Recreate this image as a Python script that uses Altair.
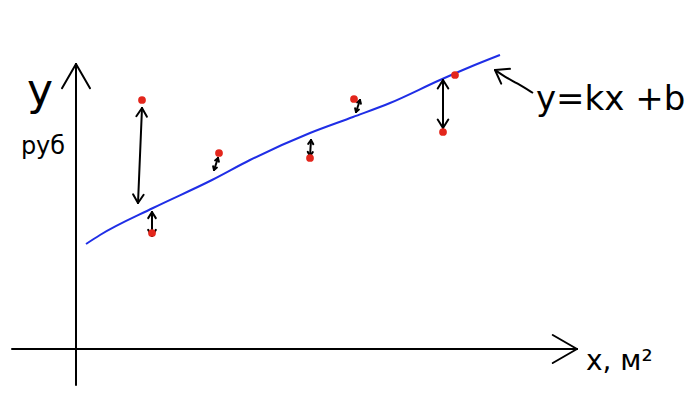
import math
import altair as alt
import pandas as pd

# --- data (chart units: x in м², y in руб) ---
pts_x = [6.6, 7.6, 14.3, 23.4, 27.8, 36.7, 37.9]
pts_y = [24.9, 11.6, 19.6, 19.1, 25.0, 21.7, 27.4]

fit_x = [1.0, 2.4, 7.7, 13.6, 17.4, 23.4, 27.7, 31.4, 36.4, 39.4, 42.4]
fit_y = [10.5, 11.4, 14.1, 16.9, 18.9, 21.6, 23.2, 24.6, 26.9, 28.2, 29.4]

# residual double arrows: (x_top, y_top, x_bottom, y_bottom)
res_x1 = [6.6, 7.6, 14.2, 23.5, 28.4, 36.7]
res_y1 = [24.1, 13.7, 19.1, 20.9, 24.9, 26.9]
res_x2 = [6.2, 7.6, 13.8, 23.4, 28.0, 36.7]
res_y2 = [14.6, 11.3, 17.9, 19.3, 23.7, 22.1]

# axes (start, end) and label pointer curve
yaxis = [(0.0, -3.6), (0.0, 28.5)]
xaxis = [(-6.4, 0.0), (50.1, 0.0)]
curve_x = [45.7, 44.1, 42.9, 41.9]
curve_y = [25.6, 26.6, 27.2, 27.9]

labels = ["у", "руб", "у=kх +b", "х, м²"]
lab_x = [-3.6, -3.3, 46.0, 51.0]
lab_y = [25.7, 20.2, 24.9, -1.3]
lab_size = [44, 24, 34, 28]
lab_align = ["center", "center", "left", "left"]

XDOM = [-6.8, 61.6]
YDOM = [-5.3, 34.1]

segs = []


def add_seg(x1, y1, x2, y2):
    segs.append({"x": x1, "y": y1, "x2": x2, "y2": y2})


def head(tx, ty, fx, fy, L=1.1, ang=28):
    # wings at tip (tx,ty) for arrow coming from (fx,fy)
    a = math.atan2(fy - ty, fx - tx)
    for s in (-1, 1):
        b = a + s * math.radians(ang)
        add_seg(tx, ty, tx + L * math.cos(b), ty + L * math.sin(b))


for x1, y1, x2, y2 in zip(res_x1, res_y1, res_x2, res_y2):
    add_seg(x1, y1, x2, y2)
    n = math.hypot(x2 - x1, y2 - y1)
    L = min(1.0, 0.3 * n)
    head(x1, y1, x2, y2, L=L, ang=32)
    head(x2, y2, x1, y1, L=L, ang=32)

for (a, b) in (yaxis, xaxis):
    add_seg(a[0], a[1], b[0], b[1])
    head(b[0], b[1], a[0], a[1], L=2.8, ang=30)

head(curve_x[-1], curve_y[-1], curve_x[-3], curve_y[-3], L=1.5, ang=35)

seg_df = pd.DataFrame(segs)
pts_df = pd.DataFrame({"x": pts_x, "y": pts_y})
fit_df = pd.DataFrame({"x": fit_x, "y": fit_y, "o": range(len(fit_x))})
cur_df = pd.DataFrame({"x": curve_x, "y": curve_y, "o": range(len(curve_x))})
lab_df = pd.DataFrame({"t": labels, "x": lab_x, "y": lab_y, "s": lab_size, "a": lab_align})

xs = alt.Scale(domain=XDOM, nice=False, zero=False)
ys = alt.Scale(domain=YDOM, nice=False, zero=False)
X = alt.X("x:Q", scale=xs, axis=None)
Y = alt.Y("y:Q", scale=ys, axis=None)

rules = alt.Chart(seg_df).mark_rule(color="black", strokeWidth=2, strokeCap="round").encode(
    x=X, y=Y, x2="x2:Q", y2="y2:Q")
fit = alt.Chart(fit_df).mark_line(color="#1f2ee6", strokeWidth=2, interpolate="monotone").encode(
    x=X, y=Y, order="o:Q")
curve = alt.Chart(cur_df).mark_line(color="black", strokeWidth=2, interpolate="basis").encode(
    x=X, y=Y, order="o:Q")
dots = alt.Chart(pts_df).mark_point(filled=True, color="#e3261c", size=60, opacity=1).encode(x=X, y=Y)

texts = []
for al in ["center", "left"]:
    texts.append(
        alt.Chart(lab_df[lab_df.a == al]).mark_text(
            align=al, baseline="middle", font="DejaVu Sans", color="#000000", fontWeight="normal"
        ).encode(x=X, y=Y, text="t:N", size=alt.Size("s:Q", scale=None, legend=None))
    )

chart = alt.layer(fit, rules, curve, dots, *texts).properties(
    width=684, height=394, padding=0, autosize=alt.AutoSizeParams(type="none")
).configure_view(stroke=None)

chart.save("out.html", embed_options={"renderer": "svg", "actions": False})
